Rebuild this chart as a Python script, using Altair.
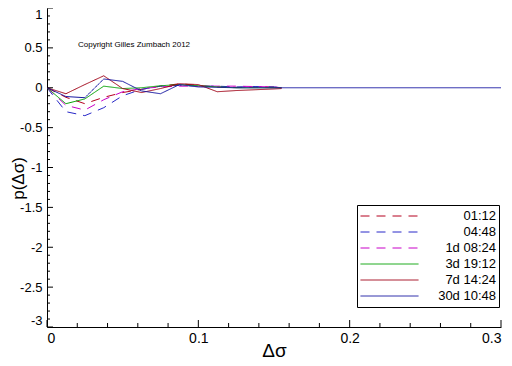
import altair as alt
import pandas as pd
import numpy as np

FONT = "Liberation Sans"

# ---- data ----
x_grid = [0, 0.0125, 0.025, 0.0375, 0.05, 0.0625, 0.075, 0.0875, 0.1, 0.1125, 0.125, 0.1375, 0.15, 0.155]
s_0112 = [0, -0.12, -0.20, -0.12, -0.06, -0.02, 0.02, 0.05, 0.03, 0.01, 0.005, 0.01, 0.01, 0.0]
s_0448 = [0, -0.30, -0.35, -0.25, -0.10, -0.02, 0.02, 0.03, 0.02, 0.02, 0.01, 0.015, 0.01, 0.0]
s_1d = [0, -0.22, -0.28, -0.15, -0.05, -0.01, 0.01, 0.02, 0.02, 0.02, 0.02, 0.015, 0.01, 0.0]
s_3d = [0, -0.20, -0.14, 0.02, -0.01, 0.0, 0.025, 0.04, 0.025, 0.01, 0.0, 0.0, 0.0, 0.0]
s_7d = [0, -0.075, 0.04, 0.15, -0.01, -0.06, -0.01, 0.05, 0.04, -0.05, -0.035, -0.025, -0.015, -0.01]
x_30d = [0, 0.0125, 0.025, 0.0375, 0.05, 0.0625, 0.075, 0.0875, 0.1, 0.1125, 0.125, 0.15, 0.3]
s_30d = [0, -0.11, -0.125, 0.11, 0.08, -0.04, -0.075, 0.04, 0.01, 0.005, 0.0, 0.0, 0.0]

series_names = ["01:12", "04:48", "1d 08:24", "3d 19:12", "7d 14:24", "30d 10:48"]
series_colors = ["#B4001E", "#2828C8", "#C800C8", "#00A000", "#A00014", "#1414A0"]
series_dash = [[9, 7], [9, 7], [9, 7], [1, 0], [1, 0], [1, 0]]

y_major = [1, 0.5, 0, -0.5, -1, -1.5, -2, -2.5, -3]
x_major = [0, 0.1, 0.2, 0.3]
y_minor = [round(v, 2) for v in np.arange(-3, 1.001, 0.1) if round(v * 2, 6) % 1 != 0]
x_minor = [round(v, 3) for v in np.arange(0, 0.3001, 0.02) if round(v * 10, 6) % 1 != 0]

copyright_text = ["Copyright Gilles Zumbach 2012"]

rows = []
for name, xs, ys in [
    ("01:12", x_grid, s_0112),
    ("04:48", x_grid, s_0448),
    ("1d 08:24", x_grid, s_1d),
    ("3d 19:12", x_grid, s_3d),
    ("7d 14:24", x_grid, s_7d),
    ("30d 10:48", x_30d, s_30d),
]:
    for xv, yv in zip(xs, ys):
        rows.append({"series": name, "x": xv, "y": yv})
df = pd.DataFrame(rows)

W, H = 454, 319
xscale = alt.Scale(domain=[0, 0.3], nice=False, zero=False)
yscale = alt.Scale(domain=[-3, 1], nice=False, zero=False)

x_axis = alt.Axis(values=x_major, labelExpr="'' + datum.value", tickSize=0,
                  grid=False, domainColor="black", labelColor="black",
                  labelFontSize=14, labelFont=FONT, labelPadding=4,
                  title="Δσ", titleFont=FONT, titleFontSize=19,
                  titleFontWeight="normal", titleColor="black",
                  titleBaseline="alphabetic", titleY=29)
y_axis = alt.Axis(values=y_major, labelExpr="'' + datum.value", tickSize=0,
                  grid=False, domainColor="black", labelColor="black",
                  labelFontSize=13, labelFont=FONT, labelPadding=5, labelFlush=True,
                  title="p(Δσ)", titleFont=FONT, titleFontSize=17,
                  titleFontWeight="normal", titleColor="black",
                  titleX=-20, titleY=170, titleBaseline="bottom")

legend = alt.Legend(
    orient="none", legendX=310, legendY=197, title=None,
    fillColor="white", strokeColor="black", padding=3,
    symbolType="stroke", symbolSize=3364, symbolStrokeWidth=1,
    clipHeight=16, rowPadding=0,
    labelAlign="right", labelOffset=77, labelFontSize=13, labelFont=FONT,
    labelColor="black", labelLimit=0,
)

lines = alt.Chart(df).mark_line(strokeWidth=1, clip=True).encode(
    x=alt.X("x:Q", scale=xscale, axis=x_axis),
    y=alt.Y("y:Q", scale=yscale, axis=y_axis),
    color=alt.Color("series:N", scale=alt.Scale(domain=series_names, range=series_colors),
                    legend=legend, sort=series_names),
    strokeDash=alt.StrokeDash("series:N", scale=alt.Scale(domain=series_names, range=series_dash),
                              legend=legend, sort=series_names),
)

def ytick_layer(vals, length):
    d = pd.DataFrame({"v": vals})
    return alt.Chart(d).mark_rule(color="black", strokeWidth=1).encode(
        y=alt.Y("v:Q", scale=yscale, axis=y_axis),
        x=alt.value(0), x2=alt.value(length))

def xtick_layer(vals, length):
    d = pd.DataFrame({"v": vals})
    return alt.Chart(d).mark_rule(color="black", strokeWidth=1).encode(
        x=alt.X("v:Q", scale=xscale, axis=x_axis),
        y=alt.value(H), y2=alt.value(H - length))

copy_df = pd.DataFrame({"t": copyright_text})
copy_layer = alt.Chart(copy_df).mark_text(
    align="left", baseline="middle", fontSize=8, font=FONT, color="black"
).encode(x=alt.value(31), y=alt.value(37), text="t:N")

chart = alt.layer(
    lines,
    ytick_layer(y_major, 6), ytick_layer(y_minor, 3),
    xtick_layer(x_major, 7), xtick_layer(x_minor, 4),
    copy_layer,
).properties(
    width=W, height=H,
    autosize=alt.AutoSizeParams(type="none"),
    padding={"left": 39, "top": 0, "right": 3, "bottom": 32},
    background="white",
).configure_view(stroke=None)

chart.save("out.html", embed_options={"renderer": "svg", "actions": False})
